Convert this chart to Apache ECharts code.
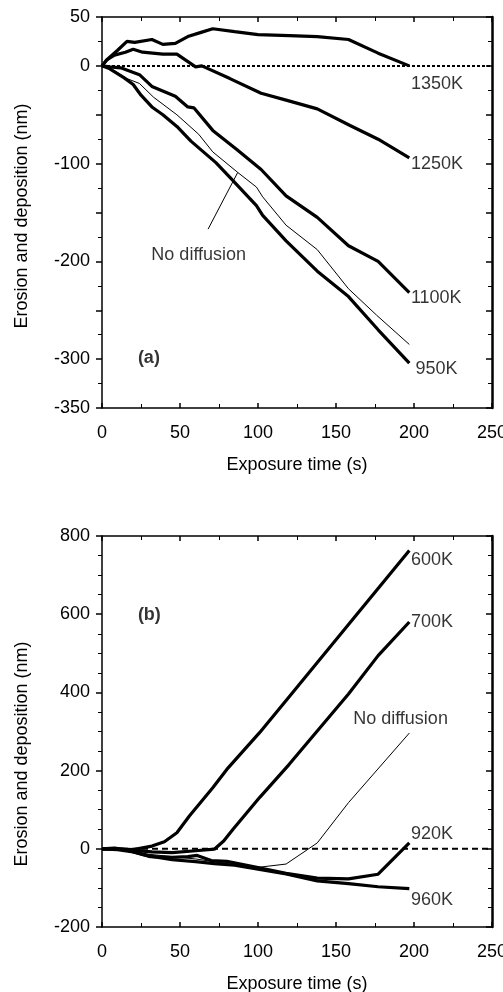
<!DOCTYPE html>
<html>
<head>
<meta charset="utf-8">
<script src="https://cdn.jsdelivr.net/npm/echarts@6/dist/echarts.min.js"></script>
<style>
  html, body { margin: 0; padding: 0; background: #fff; }
  #chart { width: 503px; height: 992px; }
</style>
</head>
<body>
<div id="chart"></div>
<script>
// (a) erosion / deposition vs exposure time, high temperatures
const k1350 = [[0,0],[3,6],[10,16],[16,25],[21,24],[32,27],[39,22],[47,23],[55,30],[63,34],[71,38],[85,35],[100,32],[120,31],[138,30],[158,27],[177,13],[197,0]];
const k1250 = [[0,0],[3,6],[8,11],[15,14],[20,17],[26,14],[39,12],[48,12],[60,-1],[64,0],[82,-13],[102,-28],[118,-35],[138,-44],[159,-61],[177,-75],[197,-94]];
const k1100 = [[0,0],[5,-1],[12,-2],[24,-9],[32,-21],[47,-31],[55,-42],[59,-43],[71,-66],[86,-85],[102,-106],[118,-133],[138,-155],[158,-184],[177,-200],[197,-232]];
const k950 = [[0,0],[5,-3],[14,-12],[20,-19],[25,-30],[32,-42],[39,-50],[48,-62],[57,-77],[65,-88],[73,-99],[82,-114],[99,-143],[103,-153],[118,-179],[138,-210],[158,-236],[177,-270],[197,-304]];
const noDiffA = [[0,0],[8,-5],[16,-13],[24,-18],[33,-32],[48,-50],[62,-70],[71,-88],[87,-109],[99,-124],[103,-134],[118,-163],[138,-188],[158,-228],[176,-255],[197,-285]];
const pointerA = [[87,-109],[68,-167]];
const labelsA = [
  [198, -19, '1350K'],
  [198, -100, '1250K'],
  [198, -237, '1100K'],
  [201, -310, '950K']
];

// (b) low temperatures
const k600 = [[0,0],[9,0],[20,-2],[32,7],[40,18],[48,41],[56,84],[71,156],[80,203],[101,297],[120,389],[160,583],[197,763]];
const k700 = [[0,0],[10,-1],[20,-4],[32,-8],[45,-10],[60,-5],[72,-1],[78,20],[84,50],[101,131],[120,216],[158,396],[177,494],[197,580]];
const noDiffB = [[0,0],[10,-2],[30,-14],[60,-26],[84,-40],[101,-47],[118,-39],[138,15],[158,118],[197,296]];
const k920 = [[0,0],[10,-2],[20,-8],[31,-20],[45,-22],[55,-20],[61,-17],[70,-30],[80,-32],[100,-48],[118,-63],[138,-75],[158,-77],[177,-65],[197,15]];
const k960 = [[0,0],[8,2],[15,-2],[30,-18],[45,-28],[60,-33],[72,-38],[85,-42],[101,-53],[118,-64],[138,-82],[158,-89],[177,-97],[197,-102]];
const labelsB = [
  [198, 738, '600K'],
  [198, 580, '700K'],
  [161, 332, 'No diffusion'],
  [198, 37, '920K'],
  [198, -130, '960K']
];

const xTicks = [0, 250, 50];
const yTicksA = [-350, 50, 50];
const yTicksB = [-200, 800, 200];

const font = 'Liberation Sans, Arial, sans-serif';
const ink = '#000';

const chart = echarts.init(document.getElementById('chart'));

function xAxisFor(grid, top) {
  return {
    type: 'value', gridIndex: grid, position: top ? 'top' : 'bottom',
    min: xTicks[0], max: xTicks[1], interval: xTicks[2],
    axisLine: { onZero: false, lineStyle: { color: ink, width: 1.5 } },
    axisTick: { show: true, inside: true, length: 5, lineStyle: { color: ink, width: 1.5 } },
    minorTick: { show: true, splitNumber: 2, length: 4, lineStyle: { color: ink, width: 1 } },
    axisLabel: { show: !top, margin: 16, color: ink, fontSize: 18, fontFamily: font },
    splitLine: { show: false },
    name: top ? '' : 'Exposure time (s)', nameLocation: 'middle', nameGap: 48,
    nameTextStyle: { color: ink, fontSize: 18, fontFamily: font }
  };
}

function yAxisFor(grid, ticks, right, minors, fmt) {
  return {
    type: 'value', gridIndex: grid, position: right ? 'right' : 'left',
    min: ticks[0], max: ticks[1], interval: ticks[2],
    axisLine: { onZero: false, lineStyle: { color: ink, width: right ? 2.5 : 1.5 } },
    axisTick: { show: true, inside: right, length: 6, lineStyle: { color: ink, width: 1.5 } },
    minorTick: { show: true, splitNumber: minors, length: 4, lineStyle: { color: ink, width: 1 } },
    axisLabel: { show: !right, margin: 12, color: ink, fontSize: 18, fontFamily: font, formatter: fmt },
    splitLine: { show: false }
  };
}

function curve(data, xi, yi, thin) {
  return {
    type: 'line', xAxisIndex: xi, yAxisIndex: yi, data: data,
    symbol: 'none', silent: true,
    lineStyle: { color: '#000', width: thin ? 1 : 3.2 }
  };
}

function zeroLine(xi, yi, dash) {
  return {
    type: 'line', xAxisIndex: xi, yAxisIndex: yi, data: [[0,0],[250,0]],
    symbol: 'none', silent: true, z: 1,
    lineStyle: { color: '#000', width: 2, type: dash }
  };
}

function textMarks(list, xi, yi) {
  return {
    type: 'scatter', xAxisIndex: xi, yAxisIndex: yi, symbolSize: 0, silent: true,
    data: list.map(d => ({ value: [d[0], d[1]], name: d[2] })),
    label: {
      show: true, position: 'right', distance: 0, formatter: p => p.name,
      color: ink, fontSize: 18, fontFamily: font
    }
  };
}

function plain(text, xi, yi, x, y, bold) {
  return {
    type: 'scatter', xAxisIndex: xi, yAxisIndex: yi, symbolSize: 0, silent: true,
    data: [{ value: [x, y], name: text }],
    label: {
      show: true, position: bold ? 'right' : 'inside', distance: 0, formatter: p => p.name,
      color: ink, fontSize: 18, fontFamily: font, fontWeight: bold ? 'bold' : 'normal'
    }
  };
}

const hideA = v => (v === -50 || v === -150 || v === -250) ? '' : String(v);

chart.setOption({
  animation: false,
  backgroundColor: '#fff',
  grid: [
    { left: 102, top: 17, width: 390, height: 391, outerBoundsMode: 'none' },
    { left: 102, top: 536, width: 390, height: 391, outerBoundsMode: 'none' }
  ],
  xAxis: [xAxisFor(0, false), xAxisFor(0, true), xAxisFor(1, false), xAxisFor(1, true)],
  yAxis: [
    yAxisFor(0, yTicksA, false, 2, hideA),
    yAxisFor(0, yTicksA, true, 2),
    yAxisFor(1, yTicksB, false, 4),
    yAxisFor(1, yTicksB, true, 4)
  ],
  graphic: [
    { type: 'text', x: 22, y: 216, rotation: Math.PI / 2,
      style: { text: 'Erosion and deposition (nm)', fill: ink, font: '18px ' + font, align: 'center', verticalAlign: 'middle' } },
    { type: 'text', x: 22, y: 754, rotation: Math.PI / 2,
      style: { text: 'Erosion and deposition (nm)', fill: ink, font: '18px ' + font, align: 'center', verticalAlign: 'middle' } }
  ],
  series: [
    zeroLine(0, 0, [3, 2]),
    curve(k1350, 0, 0), curve(k1250, 0, 0), curve(k1100, 0, 0), curve(k950, 0, 0),
    curve(noDiffA, 0, 0, true), curve(pointerA, 0, 0, true),
    textMarks(labelsA, 0, 0),
    plain('No diffusion', 0, 0, 62, -193, false),
    plain('(a)', 0, 0, 23, -299, true),

    zeroLine(2, 2, [6, 4]),
    curve(k600, 2, 2), curve(k700, 2, 2), curve(noDiffB, 2, 2, true),
    curve(k920, 2, 2), curve(k960, 2, 2),
    textMarks(labelsB, 2, 2),
    plain('(b)', 2, 2, 23, 599, true)
  ]
});
</script>
</body>
</html>
